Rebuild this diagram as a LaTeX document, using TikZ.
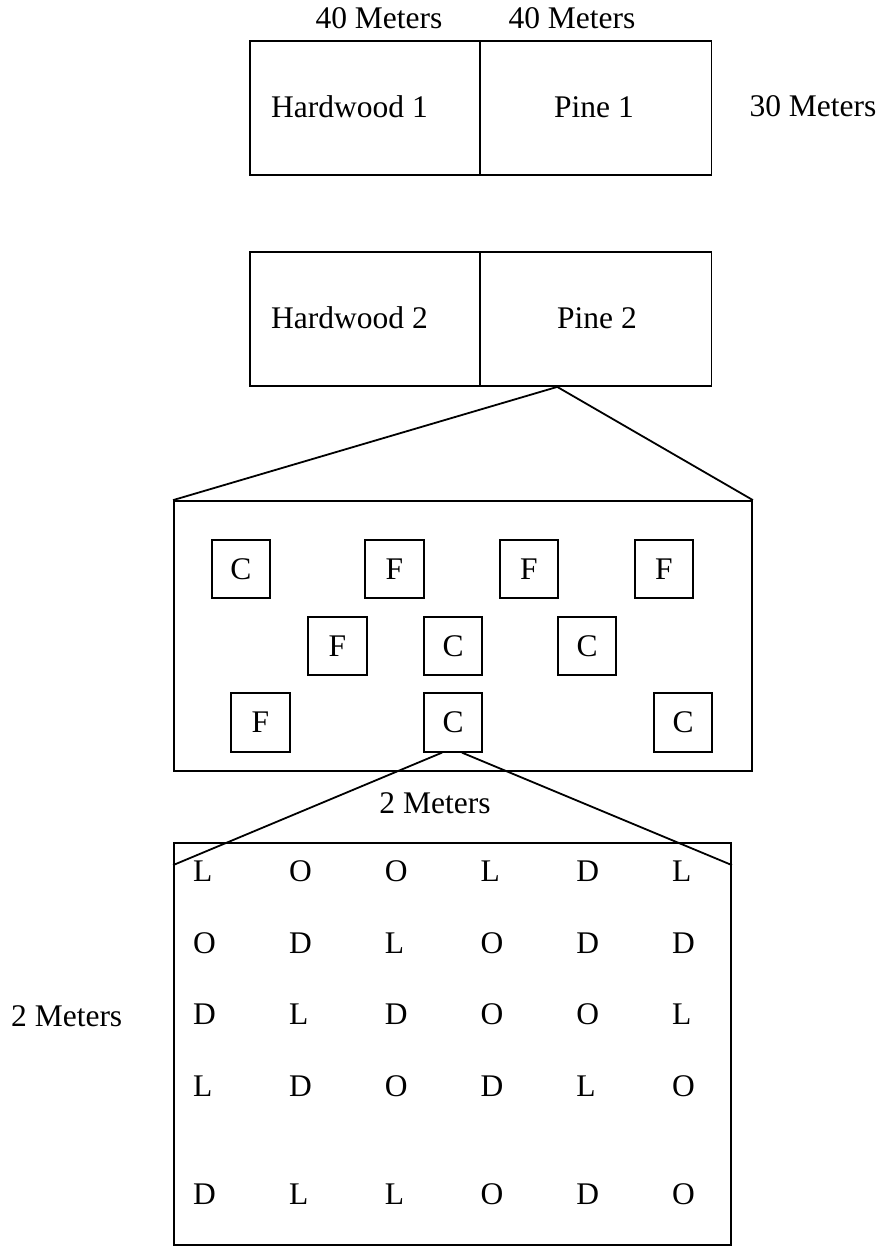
\documentclass[tikz,border=0pt]{standalone}
\usepackage{fontspec}
\setmainfont{Liberation Serif}
\usetikzlibrary{calc}
\begin{document}
\begin{tikzpicture}[x=1pt,y=-1pt,
  every node/.style={font=\fontsize{31.5}{37}\selectfont},
  plot/.style={draw, line width=1.8pt, inner sep=0pt, minimum width=#1, minimum height=134pt},
  tree/.style={draw, line width=1.8pt, inner sep=0pt, minimum size=58.5pt},
  lbl/.style={inner sep=0pt, anchor=base},
  lblw/.style={inner sep=0pt, anchor=base west},
  conn/.style={line width=1.8pt}]
\useasboundingbox (0,0) rectangle (881,1247);
% top plots
\node[plot=230pt] (hw1) at (365,108) {};
\node[plot=231.5pt] (p1) at (595.75,108) {};
\node[plot=230pt] (hw2) at (365,319) {};
\node[plot=231.5pt] (p2) at (595.75,319) {};
\node[lbl] (m40a) at (379,28.3) {40 Meters};
\node[lbl] (m40b) at (572,28.3) {40 Meters};
\node[lbl] (m30) at (813,116.7) {30 Meters};
\node[lblw] (thw1) at (271,117.3) {Hardwood 1};
\node[lbl] (tp1) at (594,117) {Pine 1};
\node[lblw] (thw2) at (271,328) {Hardwood 2};
\node[lbl] (tp2) at (597,328) {Pine 2};
% big box
\node[draw, line width=1.8pt, inner sep=0pt, minimum width=578pt, minimum height=270pt] (big) at (463,636) {};
\coordinate (apex) at ([xshift=-38.5pt]p2.south);
\draw[conn] (big.north west) -- (apex) -- (big.north east);
% trees
\node[tree] (t1) at (241,569) {C};
\node[tree] (t2) at (394.5,569) {F};
\node[tree] (t3) at (529,569) {F};
\node[tree] (t4) at (664,569) {F};
\node[tree] (t5) at (337.5,646) {F};
\node[tree] (t6) at (453,646) {C};
\node[tree] (t7) at (587,646) {C};
\node[tree] (t8) at (260.5,722.5) {F};
\node[tree] (t9) at (453,722.5) {C};
\node[tree] (t10) at (683,722.5) {C};
\node[lbl] (m2a) at (435,813) {2 Meters};
% lower box
\node[draw, line width=1.8pt, inner sep=0pt, minimum width=557pt, minimum height=402pt] (low) at (452.5,1044) {};
\coordinate (cl) at ([xshift=-11pt]t9.south);
\coordinate (cr) at ([xshift=9pt]t9.south);
\coordinate (ll) at ($(low.north west)+(0,23)$);
\coordinate (lr) at ($(low.north east)+(0,23)$);
\draw[conn] (cl) -- (ll);
\draw[conn] (cr) -- (lr);
\node[lbl] (m2b) at (66.7,1026.7) {2 Meters};
% letter grid
\foreach \row [count=\r] in {{L,O,O,L,D,L},{O,D,L,O,D,D},{D,L,D,O,O,L},{L,D,O,D,L,O},{D,L,L,O,D,O}} {
  \foreach \ch [count=\c] in \row {
    \pgfmathsetmacro{\yy}{{881.7,953,1024,1096,1204}[\r-1]}
    \node[lblw] (g\r\c) at ({193+95.8*(\c-1)},\yy) {\ch};
  }
}
\end{tikzpicture}
\end{document}
